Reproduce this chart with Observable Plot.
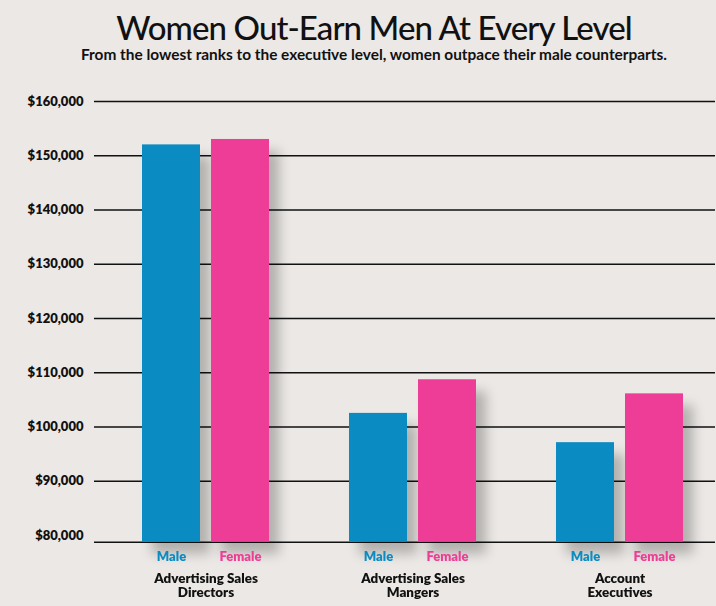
<!DOCTYPE html>
<html>
<head>
<meta charset="utf-8">
<script src="https://cdn.jsdelivr.net/npm/d3@7"></script>
<script src="https://cdn.jsdelivr.net/npm/@observablehq/plot@0.6"></script>
<style>
  html, body { margin: 0; padding: 0; }
  body { width: 716px; height: 606px; overflow: hidden; background: #ebe8e5; font-family: Lato, "Open Sans", sans-serif; position: relative; }
  #title { position: absolute; left: 16px; top: 7px; width: 716px; text-align: center; font-size: 33px; font-weight: 500; color: #111; line-height: 40px; letter-spacing: -0.9px; }
  #subtitle { position: absolute; left: 16px; top: 45px; width: 716px; text-align: center; font-size: 15.4px; font-weight: 700; color: #111; line-height: 18px; }
  #chart { position: absolute; left: 0; top: 70px; }
</style>
</head>
<body>
<div id="title">Women Out-Earn Men At Every Level</div>
<div id="subtitle">From the lowest ranks to the executive level, women outpace their male counterparts.</div>
<div id="chart"></div>
<script>
const categories = ["Advertising Sales\nDirectors", "Advertising Sales\nMangers", "Account\nExecutives"];
const sexes = ["Male", "Female"];
const maleSalaries = [152000, 102500, 97100];
const femaleSalaries = [153000, 108700, 106100];
const yTicks = [80000, 90000, 100000, 110000, 120000, 130000, 140000, 150000, 160000];
const yBaseline = 78750;
const colors = ["#0a8bc2", "#ee3d96"];

const rows = [];
categories.forEach((c, i) => {
  rows.push({category: c, sex: "Male", salary: maleSalaries[i]});
  rows.push({category: c, sex: "Female", salary: femaleSalaries[i]});
});

const chart = Plot.plot({
  width: 716,
  height: 536,
  marginLeft: 93,
  marginRight: 0,
  marginTop: 31,
  marginBottom: 64.3,
  style: {background: "transparent", fontFamily: "Lato, 'Open Sans', sans-serif", color: "#111", overflow: "visible"},
  fx: {domain: categories, paddingInner: 0, paddingOuter: 0, axis: null, label: null},
  x: {domain: sexes, paddingInner: 0.16, paddingOuter: 0.56, align: 0.6, axis: null, label: null},
  y: {domain: [yBaseline, 160000], axis: null, label: null},
  color: {domain: sexes, range: colors},
  marks: [
    Plot.ruleY(yTicks.slice(1), {stroke: "#111", strokeWidth: 1.4}),
    Plot.ruleY([yBaseline], {stroke: "#111", strokeWidth: 1.4}),
    Plot.axisY(yTicks, {anchor: "left", tickSize: 0, tickPadding: 11, label: null,
      tickFormat: d => "$" + d3.format(",")(d), fontSize: 13, fontWeight: 800, fill: "#111"}),
    Plot.barY(rows, {fx: "category", x: "sex", y1: () => yBaseline, y2: "salary", fill: "sex"}),
    Plot.text(rows, {fx: "category", x: "sex", text: "sex", fill: "sex", frameAnchor: "bottom", dy: 15, lineAnchor: "middle", fontSize: 13, fontWeight: 800}),
    Plot.text(categories, {fx: d => d, text: d => d, frameAnchor: "bottom", dx: 8, dy: 30, lineAnchor: "top", lineHeight: 1.1, fontSize: 13.4, fontWeight: 800, fill: "#111"})
  ]
});

chart.querySelectorAll('g[aria-label="bar"]').forEach(g => {
  g.style.filter = "drop-shadow(10px 12px 6px rgba(0,0,0,0.24))";
});
document.getElementById("chart").appendChild(chart);
</script>
</body>
</html>
